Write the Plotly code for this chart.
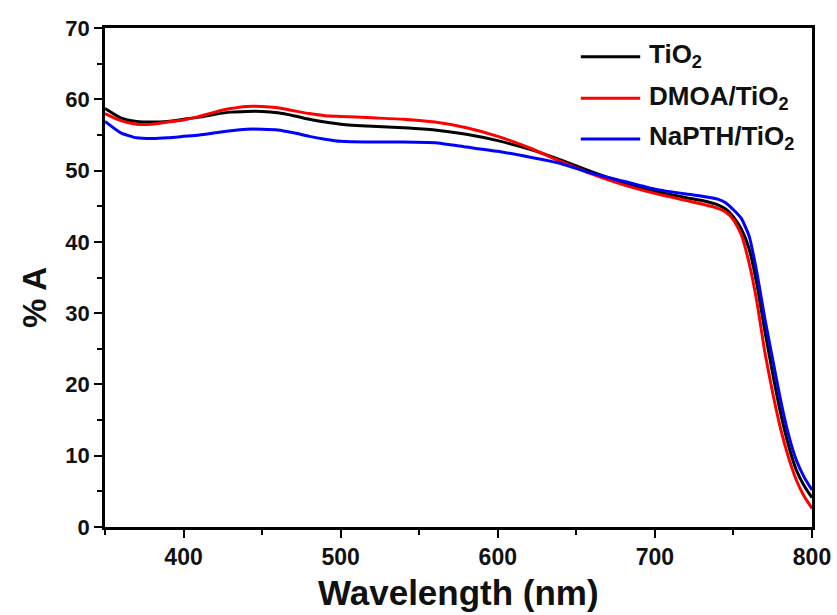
import plotly.graph_objects as go

wavelength = [350, 360, 370, 380, 390, 400, 410, 420, 430, 440, 450, 460, 470, 480, 490,
              500, 520, 540, 560, 580, 600, 620, 640, 660, 680, 700, 720, 730, 740, 745,
              750, 755, 760, 765, 770, 775, 780, 785, 790, 795, 800]

tio2 = [58.7, 57.4, 56.9, 56.8, 56.9, 57.2, 57.5, 57.9, 58.2, 58.3, 58.3, 58.1, 57.7, 57.2, 56.8,
        56.5, 56.2, 56.0, 55.7, 55.1, 54.2, 53.0, 51.5, 49.8, 48.3, 47.1, 46.2, 45.8, 45.2, 44.6,
        43.5, 41.8, 39.0, 34.0, 27.5, 21.5, 16.0, 11.5, 8.0, 5.8, 4.1]

dmoa = [58.0, 57.0, 56.5, 56.5, 56.8, 57.1, 57.6, 58.2, 58.7, 59.0, 59.0, 58.8, 58.4, 58.0, 57.7,
        57.6, 57.4, 57.2, 56.8, 56.0, 54.8, 53.2, 51.3, 49.5, 48.0, 46.8, 45.8, 45.3, 44.7, 44.2,
        43.1, 41.0, 37.0, 31.5, 24.5, 18.8, 13.8, 9.8, 6.6, 4.3, 2.6]

napth = [56.9, 55.3, 54.6, 54.5, 54.6, 54.8, 55.0, 55.3, 55.6, 55.8, 55.8, 55.7, 55.3, 54.8, 54.4,
         54.1, 54.0, 54.0, 53.9, 53.3, 52.7, 51.9, 51.0, 49.6, 48.5, 47.4, 46.7, 46.4, 46.0, 45.5,
         44.5, 43.3, 40.8, 35.6, 29.2, 23.5, 17.8, 13.0, 9.4, 7.0, 5.2]

series_names = ["TiO<sub>2</sub>", "DMOA/TiO<sub>2</sub>", "NaPTH/TiO<sub>2</sub>"]
series_values = [tio2, dmoa, napth]
series_colors = ["#000000", "#ff0000", "#0000ff"]

x_ticks = [400, 500, 600, 700, 800]
y_ticks = [0, 10, 20, 30, 40, 50, 60, 70]

# legend placement (paper coordinates)
legend_y = [0.9425, 0.859, 0.7776]
legend_x0, legend_x1, legend_tx = 0.673, 0.757, 0.766

BOLD = "Liberation Sans, Arial"
TXT = "#111111"

fig = go.Figure()
for name, vals, col in zip(series_names, series_values, series_colors):
    fig.add_trace(go.Scatter(x=wavelength, y=vals, mode="lines", name=name, showlegend=False,
                             line=dict(color=col, width=3, shape="spline", smoothing=0.5)))

for name, col, ly in zip(series_names, series_colors, legend_y):
    fig.add_shape(type="line", xref="paper", yref="paper",
                  x0=legend_x0, x1=legend_x1, y0=ly, y1=ly,
                  line=dict(color=col, width=3))
    fig.add_annotation(xref="paper", yref="paper", x=legend_tx, y=ly, text=name,
                       showarrow=False, xanchor="left", yanchor="middle", yshift=1,
                       font=dict(size=26, family=BOLD, weight="bold", color=TXT))

fig.add_annotation(xref="paper", yref="paper", x=-0.099, y=0.459, text="% A",
                   textangle=-90, showarrow=False, xanchor="center", yanchor="middle",
                   font=dict(size=33, family=BOLD, weight="bold", color=TXT))
fig.add_annotation(xref="paper", yref="paper", x=0.5, y=-0.132, text="Wavelength (nm)",
                   showarrow=False, xanchor="center", yanchor="middle",
                   font=dict(size=35, family=BOLD, weight="bold", color=TXT))

fig.update_layout(
    width=837, height=615,
    margin=dict(l=105, r=25, t=28, b=88),
    paper_bgcolor="white", plot_bgcolor="white",
    font=dict(family=BOLD, color=TXT),
    showlegend=False,
)

fig.update_xaxes(
    range=[350, 800], tickvals=x_ticks, ticktext=[str(v) for v in x_ticks],
    automargin=False,
    showgrid=False, zeroline=False,
    showline=True, linecolor="black", linewidth=2.5, mirror=True,
    ticks="outside", ticklen=8, tickwidth=2, tickcolor="black",
    minor=dict(dtick=50, tick0=350, ticks="outside", ticklen=5, tickwidth=2, tickcolor="black"),
    tickfont=dict(size=23, family="Liberation Sans Narrow, Liberation Sans, Arial", weight="bold", color=TXT),
)
fig.update_yaxes(
    range=[0, 70], tickvals=y_ticks,
    automargin=False,
    showgrid=False, zeroline=False,
    showline=True, linecolor="black", linewidth=2.5, mirror=True,
    ticks="outside", ticklen=8, tickwidth=2, tickcolor="black",
    minor=dict(dtick=5, tick0=0, ticks="outside", ticklen=5, tickwidth=2, tickcolor="black"),
    tickfont=dict(size=22, family=BOLD, weight="bold", color=TXT),
)

fig.write_html("out.html", post_script="document.body.style.margin='0';",
               config={"displayModeBar": False})
